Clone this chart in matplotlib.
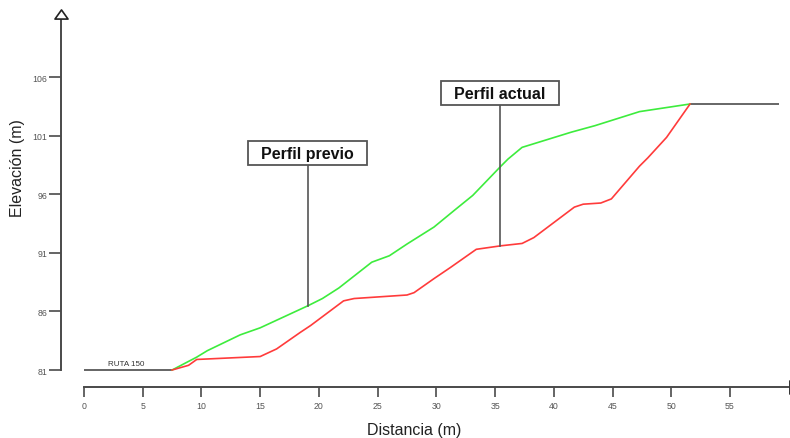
import matplotlib
matplotlib.use("Agg")
import matplotlib.pyplot as plt
from matplotlib.patches import Rectangle
from matplotlib.path import Path

plt.rcParams["font.family"] = ["Liberation Sans", "DejaVu Sans"]

# Terrain profiles (distance in m, elevation in m)
dist_previo = [7.5, 9.6, 10.5, 13.3, 15.0, 19.1, 20.3, 21.7, 24.5, 26.0, 27.5,
               29.8, 31.5, 33.1, 35.5, 36.1, 37.3, 41.5, 43.5, 47.3, 51.6]
elev_previo = [81.0, 82.1, 82.65, 84.0, 84.6, 86.5, 87.1, 88.0, 90.2, 90.75, 91.75,
               93.2, 94.6, 95.9, 98.4, 99.0, 100.0, 101.3, 101.85, 103.05, 103.7]

dist_actual = [7.5, 8.9, 9.6, 15.0, 16.4, 18.4, 19.3, 22.1, 23.0, 27.5, 28.1, 29.8,
               31.2, 33.4, 35.5, 37.3, 38.3, 41.75, 42.5, 44.0, 44.9, 47.3, 48.0,
               49.6, 51.6]
elev_actual = [81.0, 81.4, 81.9, 82.15, 82.8, 84.2, 84.8, 86.9, 87.1, 87.4, 87.6, 88.8,
               89.75, 91.3, 91.6, 91.8, 92.3, 94.9, 95.15, 95.25, 95.6, 98.4, 99.1,
               100.85, 103.7]

# Flat stretches: road at the start, terrace at the end
road_x = [0.0, 7.5]
road_y = [81.0, 81.0]
top_x = [51.6, 59.2]
top_y = [103.7, 103.7]

x_ticks = [0, 5, 10, 15, 20, 25, 30, 35, 40, 45, 50, 55]
y_ticks = [81, 86, 91, 96, 101, 106]

AXIS = "#4a4a4a"
GREEN = "#3dec3d"
RED = "#ff3b3b"

W, H = 790, 439
fig = plt.figure(figsize=(W / 100, H / 100), dpi=100)
ax = fig.add_axes([61 / W, 51 / H, (W - 61) / W, 388 / H])
ax.set_xlim(-1.958, 60.11)
ax.set_ylim(79.55, 112.66)

# Profiles
ax.plot(road_x, road_y, color=AXIS, lw=1.2, solid_capstyle="butt")
ax.plot(top_x, top_y, color="#5a5a5a", lw=1.3, solid_capstyle="butt")
ax.plot(dist_previo, elev_previo, color=GREEN, lw=1.2)
ax.plot(dist_actual, elev_actual, color=RED, lw=1.2)

ax.text(3.55, 81.25, "RUTA 150", fontsize=5.8, color="#333333",
        ha="center", va="bottom")

# Axes styling
for side in ("top", "right"):
    ax.spines[side].set_visible(False)
ax.spines["left"].set_bounds(81, 111.0)
ax.spines["bottom"].set_bounds(0, 59.9)
for side in ("left", "bottom"):
    ax.spines[side].set_color(AXIS)
    ax.spines[side].set_linewidth(1.4)

ax.set_xticks(x_ticks)
ax.set_yticks(y_ticks)
ax.tick_params(axis="y", direction="out", length=8.5, width=1.2, color=AXIS,
               labelsize=6.3, labelcolor="#555555", pad=1.5)
ax.tick_params(axis="x", direction="out", length=7, width=1.2, color=AXIS,
               labelsize=6.3, labelcolor="#555555", pad=3)

# Arrowheads at the axis ends (closed hollow triangles)
codes = [Path.MOVETO, Path.LINETO, Path.LINETO, Path.CLOSEPOLY]
tri_up = Path([(-1, -0.7), (1, -0.7), (0, 0.7), (-1, -0.7)], codes)
tri_right = Path([(-0.7, -1), (-0.7, 1), (0.7, 0), (-0.7, -1)], codes)
ax.plot([-1.958], [111.35], marker=tri_up, markersize=9.4, mfc="white",
        mec="#222222", mew=1.2, clip_on=False, zorder=5)
ax.plot([60.45], [79.55], marker=tri_right, markersize=9.4, mfc="white",
        mec="#222222", mew=1.2, clip_on=False, zorder=5)

ax.set_xlabel("Distancia (m)", fontsize=11.5, color="#222222", va="center")
ax.xaxis.set_label_coords((414 - 61) / 729, (388 - 431) / 388)
ax.set_ylabel("Elevación (m)", fontsize=11.5, color="#222222", va="center")
ax.yaxis.set_label_coords((18 - 61) / 729, (388 - 168) / 388)

# Callout boxes with leader lines
callouts = [
    ("Perfil previo", 19.05, 86.5, (13.96, 98.49, 10.14, 2.05)),
    ("Perfil actual", 35.42, 91.6, (30.40, 103.61, 10.04, 2.05)),
]
for label, px, py, (bx, by, bw, bh) in callouts:
    ax.plot([px, px], [by, py], color="#555555", lw=1.2)
    ax.add_patch(Rectangle((bx, by), bw, bh, facecolor="white",
                           edgecolor="#555555", lw=1.3, zorder=3))
    ax.text(bx + bw / 2, by + bh / 2, label, fontsize=11.5, fontweight="bold",
            color="#111111", ha="center", va="center", zorder=4)

fig.savefig("out.png", dpi=100)
